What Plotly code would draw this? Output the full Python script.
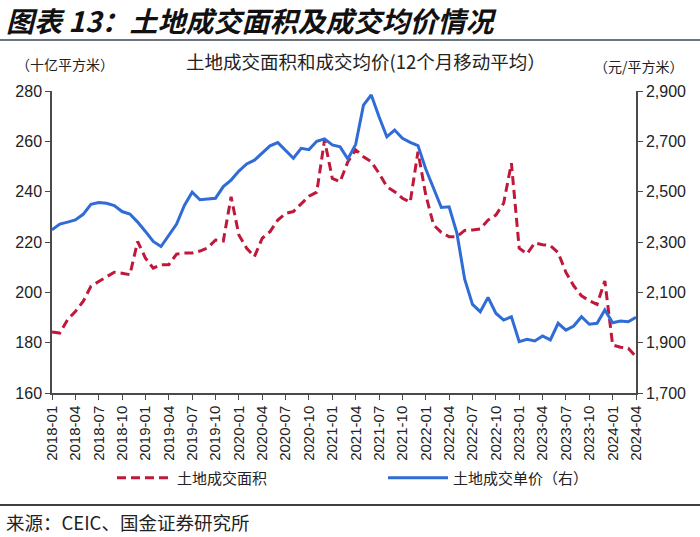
import pandas as pd
import plotly.graph_objects as go

months = list(pd.period_range("2018-01", "2024-04", freq="M").strftime("%Y-%m"))
tick_labels = months[::3]

area_name = "土地成交面积"
price_name = "土地成交单价（右）"

# 土地成交面积（十亿平方米，12个月移动平均）
land_area = [
    184.2, 183.8, 189.1, 192.4, 196.4, 202.4, 204.3, 206.3, 208.0, 207.6,
    207.0, 220.2, 213.6, 209.6, 211.0, 211.0, 215.2, 215.6, 215.6, 216.4,
    217.7, 220.8, 220.4, 238.0, 222.8, 217.5, 214.2, 221.5, 224.1, 228.7,
    231.4, 232.1, 235.3, 238.2, 239.8, 260.5, 245.3, 244.0, 251.9, 256.6,
    253.9, 251.9, 247.3, 242.0, 240.0, 237.4, 235.8, 255.9, 238.7, 226.8,
    223.8, 222.1, 222.1, 224.6, 224.8, 225.2, 228.7, 230.7, 235.4, 251.3,
    217.5, 215.3, 219.6, 218.9, 218.6, 215.8, 207.9, 202.6, 198.6, 196.7,
    195.2, 204.5, 179.1, 178.2, 177.8, 174.4,
]

# 土地成交均价（元/平方米，12个月移动平均）
land_price = [
    2348, 2371, 2379, 2388, 2410, 2450, 2457, 2454, 2445, 2421,
    2411, 2379, 2342, 2302, 2282, 2329, 2371, 2445, 2498, 2468,
    2470, 2474, 2520, 2546, 2582, 2610, 2625, 2654, 2682, 2695,
    2666, 2633, 2672, 2667, 2700, 2710, 2686, 2678, 2630, 2688,
    2844, 2884, 2798, 2718, 2745, 2712, 2696, 2683, 2590, 2510,
    2437, 2440, 2335, 2152, 2052, 2023, 2080, 2017, 1990, 2003,
    1904, 1913, 1907, 1927, 1911, 1977, 1950, 1966, 2003, 1973,
    1977, 2030, 1979, 1986, 1983, 2001,
]

CJK = "Noto Sans CJK SC"
NUM = "Liberation Sans, Arial, sans-serif"
RED = "#C0183A"
BLUE = "#2F6CD6"
AXIS = "#4a4a4a"

fig = go.Figure()
fig.add_trace(go.Scatter(
    x=months, y=land_area, name=area_name, mode="lines",
    line=dict(color=RED, width=3, dash="9px,5px"),
    yaxis="y", legend="legend",
))
fig.add_trace(go.Scatter(
    x=months, y=land_price, name=price_name, mode="lines",
    line=dict(color=BLUE, width=3),
    yaxis="y2", legend="legend2",
))

W, H = 700, 537
L, R, T, B = 52, 64, 91, 144
pw, ph = W - L - R, H - T - B


def px(x):
    return (x - L) / pw


def py(y):
    return (H - B - y) / ph


leg_common = dict(
    orientation="h", y=py(478), xanchor="left", yanchor="middle",
    font=dict(family=CJK, size=15, color="#222"),
    bgcolor="rgba(0,0,0,0)",
)

fig.update_layout(
    width=W, height=H,
    margin=dict(l=L, r=R, t=T, b=B, autoexpand=False),
    paper_bgcolor="white", plot_bgcolor="white",
    showlegend=True,
    legend=dict(x=px(112), itemwidth=55, **leg_common),
    legend2=dict(x=px(383), itemwidth=60, **leg_common),
    xaxis=dict(
        type="category", categoryorder="array", categoryarray=months,
        range=[0, len(months) - 1],
        tickmode="array", tickvals=tick_labels, ticktext=tick_labels,
        tickangle=-90, ticks="outside", ticklen=5, tickcolor=AXIS,
        showline=True, linecolor=AXIS, linewidth=1.5,
        showgrid=False, zeroline=False,
        tickfont=dict(family=NUM, size=15, color="#222"),
    ),
    yaxis=dict(
        range=[160, 280], dtick=20, tick0=160,
        ticks="outside", ticklen=5, tickcolor=AXIS,
        showline=True, linecolor=AXIS, linewidth=1.5,
        showgrid=False, zeroline=False,
        tickfont=dict(family=NUM, size=16, color="#222"),
    ),
    yaxis2=dict(
        range=[1700, 2900], dtick=200, tick0=1700,
        overlaying="y", side="right", anchor="x",
        tickformat=",d",
        ticks="outside", ticklen=5, tickcolor=AXIS,
        showline=True, linecolor=AXIS, linewidth=1.5,
        showgrid=False, zeroline=False,
        tickfont=dict(family=NUM, size=16, color="#222"),
    ),
)

annotations = [
    dict(text="图表 13：土地成交面积及成交均价情况", x=px(4), y=py(20),
         xanchor="left", yanchor="middle",
         font=dict(family=CJK, size=28, color="#111", weight="bold", style="italic")),
    dict(text="土地成交面积和成交均价(12个月移动平均）", x=px(366), y=py(61),
         xanchor="center", yanchor="middle",
         font=dict(family=CJK, size=18.5, color="#222")),
    dict(text="（十亿平方米）", x=px(14), y=py(64),
         xanchor="left", yanchor="middle",
         font=dict(family=CJK, size=14, color="#222")),
    dict(text="（元/平方米）", x=px(686), y=py(66),
         xanchor="right", yanchor="middle",
         font=dict(family=CJK, size=14, color="#222")),
    dict(text="来源：CEIC、国金证券研究所", x=px(4), y=py(522),
         xanchor="left", yanchor="middle",
         font=dict(family=CJK, size=18.5, color="#222")),
]
for a in annotations:
    a.update(xref="paper", yref="paper", showarrow=False)
fig.update_layout(annotations=annotations)

fig.update_layout(shapes=[
    dict(type="line", xref="paper", yref="paper", x0=px(0), x1=px(700),
         y0=py(40), y1=py(40), line=dict(color="#6b7580", width=2)),
    dict(type="line", xref="paper", yref="paper", x0=px(0), x1=px(700),
         y0=py(505), y1=py(505), line=dict(color="#404040", width=2)),
])

fig.write_html(
    "out.html",
    config={"displayModeBar": False},
    post_script="document.body.style.margin='0';document.body.style.overflow='hidden';",
)
